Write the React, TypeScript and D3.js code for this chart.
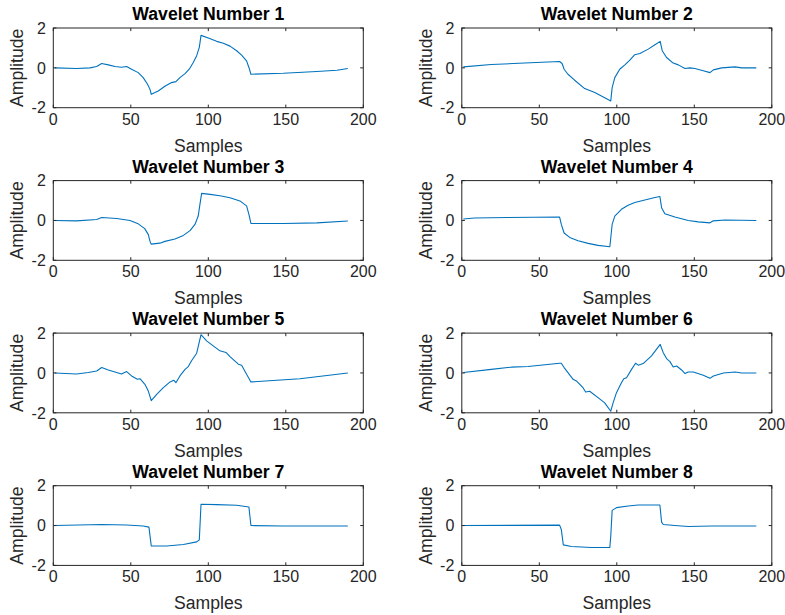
import React from "react";
import * as d3 from "d3";

// Sample index / amplitude pairs for each wavelet
const wavelet1: [number, number][] = [
  [1, 0], [15, -0.03], [23.7, 0], [28, 0.07], [31.2, 0.22], [35.5, 0.15], [39.8, 0.07],
  [44, 0.03], [47.3, 0.07], [50.5, -0.07], [54.8, -0.24], [58, -0.49], [60.8, -0.82],
  [62.4, -1.08], [63.2, -1.33], [67.7, -1.16], [72, -0.92], [76.3, -0.74], [79.1, -0.69],
  [81.7, -0.49], [85, -0.29], [87.7, -0.07], [90.3, 0.27], [92.5, 0.61], [94.2, 1.03],
  [95.3, 1.63], [100, 1.5], [105.4, 1.33], [109.7, 1.23], [114, 1.09], [118.3, 0.86],
  [121.5, 0.64], [124.7, 0.35], [126.2, 0.02], [127.5, -0.32], [148.4, -0.27],
  [170, -0.18], [183, -0.12], [190, -0.03],
];

const wavelet2: [number, number][] = [
  [1, 0.05], [19, 0.17], [40.5, 0.24], [63.1, 0.32], [64.7, 0.22], [66, -0.07],
  [68.5, -0.32], [72.8, -0.62], [79.3, -1.04], [85.8, -1.24], [92.2, -1.5], [96.1, -1.66],
  [97, -0.99], [98.7, -0.49], [101.9, -0.07], [105.2, 0.15], [108.4, 0.39], [111.6, 0.66],
  [114.9, 0.72], [120.3, 0.94], [124.6, 1.16], [128, 1.33], [129.3, 0.86], [132.1, 0.52],
  [136.4, 0.24], [139.7, 0.15], [144, -0.03], [147.2, 0], [150.4, -0.03], [155.8, -0.15],
  [160.1, -0.24], [162.3, -0.1], [167.7, 0], [176.3, 0.05], [180.6, 0], [190, 0],
];

const wavelet3: [number, number][] = [
  [1, 0], [15, -0.02], [28, 0.05], [31.2, 0.15], [40.9, 0.1], [49.5, 0], [54.8, -0.17],
  [59, -0.41], [61.3, -0.71], [62.4, -1.05], [63.2, -1.19], [68.8, -1.14], [72, -1.05],
  [78.5, -0.93], [83.9, -0.75], [88.2, -0.51], [91.4, -0.2], [93.5, 0.22], [94.6, 0.81],
  [95.7, 1.36], [101.1, 1.31], [107.5, 1.24], [114, 1.14], [120.4, 0.98], [124.7, 0.73],
  [126.2, 0.3], [127.5, -0.15], [148.4, -0.15], [170, -0.12], [190, -0.03],
];

const wavelet4: [number, number][] = [
  [1, 0.07], [8.2, 0.12], [29.7, 0.15], [63.1, 0.17], [64.2, -0.2], [66, -0.63],
  [69.6, -0.85], [75, -1.02], [81.5, -1.15], [87.9, -1.25], [95.5, -1.32], [96.1, -0.88],
  [97, -0.2], [98.7, 0.22], [103, 0.56], [107.3, 0.76], [111.6, 0.9], [118.1, 1.03],
  [124.6, 1.15], [127.8, 1.2], [128.9, 0.64], [131, 0.34], [137.5, 0.17], [146.1, 0],
  [152.6, -0.07], [160.1, -0.12], [162.3, -0.02], [169.8, 0.02], [190, 0],
];

const wavelet5: [number, number][] = [
  [1, 0], [15, -0.05], [22.6, 0.02], [28, 0.1], [31.2, 0.27], [35.5, 0.15], [39.8, 0.05],
  [44, -0.05], [47.3, 0.07], [50.5, -0.15], [54.2, -0.32], [55.9, -0.29], [59.1, -0.57],
  [61.3, -0.91], [63.2, -1.39], [66.7, -1.08], [71, -0.74], [75.3, -0.45], [77.8, -0.37],
  [79.1, -0.49], [81.7, -0.15], [85, 0.18], [87.1, 0.32], [89.2, 0.61], [92.5, 0.99],
  [95.3, 1.92], [98.9, 1.61], [103.2, 1.36], [107.5, 1.11], [111.4, 1.03], [114, 0.82],
  [119.4, 0.44], [121.5, 0.39], [124.7, -0.07], [127.5, -0.45], [159.1, -0.29], [190, 0],
];

const wavelet6: [number, number][] = [
  [1, 0.02], [19, 0.18], [31.9, 0.29], [42.7, 0.32], [63.1, 0.49], [64.2, 0.49],
  [66, 0.27], [68.5, 0.02], [71.8, -0.32], [73.9, -0.4], [78.2, -0.74], [79.9, -0.96],
  [82.5, -0.92], [87.9, -1.24], [92.2, -1.5], [96.1, -1.92], [97.6, -1.5], [99.8, -0.99],
  [100.9, -0.82], [103, -0.49], [104.5, -0.29], [106.3, -0.24], [109.5, 0.18],
  [112.1, 0.49], [113.8, 0.39], [117, 0.47], [122.4, 0.86], [128, 1.43], [129.9, 1.03],
  [132.1, 0.72], [134.3, 0.57], [136.4, 0.3], [138.6, 0.35], [141.8, 0.15], [144, -0.03],
  [146.1, 0.05], [149.4, 0.05], [155.8, -0.12], [160.1, -0.27], [162.3, -0.15],
  [168.8, 0], [176.3, 0.05], [180.6, 0], [190, 0],
];

const wavelet7: [number, number][] = [
  [1, 0], [31.2, 0.05], [47.3, 0.03], [58, -0.02], [61.7, -0.08], [63.2, -1.02],
  [73.1, -1.03], [83.9, -0.95], [92.5, -0.82], [94.2, -0.72], [95.3, 1.07], [105.4, 1.05],
  [118.3, 1.02], [126.2, 0.93], [127.5, 0], [148.4, -0.02], [190, -0.02],
];

const wavelet8: [number, number][] = [
  [1, 0], [63.1, 0.02], [64.2, -0.2], [65.5, -0.97], [70.7, -1.05], [83.6, -1.1],
  [95.5, -1.1], [96.1, -0.54], [97, 0.76], [99.8, 0.9], [107.3, 0.98], [113.8, 1.03],
  [127.8, 1.03], [128.9, 0.17], [130, 0.05], [137.5, 0], [146.1, -0.05], [161.2, -0.02],
  [190, -0.02],
];

const wavelets = [wavelet1, wavelet2, wavelet3, wavelet4, wavelet5, wavelet6, wavelet7, wavelet8];
const titles = wavelets.map((_, i) => `Wavelet Number ${i + 1}`);

const sampleTicks = [0, 50, 100, 150, 200];
const amplitudeTicks = [-2, 0, 2];
const sampleDomain: [number, number] = [0, 200];
const amplitudeDomain: [number, number] = [-2, 2];

const WIDTH = 785;
const HEIGHT = 615;
const COL_LEFT = [53.3, 461.8];
const ROW_TOP = [28, 180.6, 333.1, 485.7];
const PLOT_W = 310;
const PLOT_H = 79.7;
const TICK_LEN = 3.1;

const FONT = "'Liberation Sans', Arial, Helvetica, sans-serif";
const AXIS_COLOR = "#262626";
const LINE_COLOR = "#0072BD";

function Panel({ data, title, left, top }: { data: [number, number][]; title: string; left: number; top: number }) {
  const x = d3.scaleLinear().domain(sampleDomain).range([left, left + PLOT_W]);
  const y = d3.scaleLinear().domain(amplitudeDomain).range([top + PLOT_H, top]);
  const line = d3
    .line<[number, number]>()
    .x((d) => x(d[0]))
    .y((d) => y(d[1]));
  const bottom = top + PLOT_H;
  const right = left + PLOT_W;
  const midY = (top + bottom) / 2;

  return (
    <g>
      <path d={line(data) ?? ""} fill="none" stroke={LINE_COLOR} strokeWidth={1.1} strokeLinejoin="round" />
      <rect x={left} y={top} width={PLOT_W} height={PLOT_H} fill="none" stroke={AXIS_COLOR} strokeWidth={1} />
      {sampleTicks.map((t) => (
        <g key={`x${t}`}>
          <line x1={x(t)} x2={x(t)} y1={bottom} y2={bottom - TICK_LEN} stroke={AXIS_COLOR} />
          <line x1={x(t)} x2={x(t)} y1={top} y2={top + TICK_LEN} stroke={AXIS_COLOR} />
          <text x={x(t)} y={bottom + 17} textAnchor="middle" fontSize={16} fill={AXIS_COLOR}>
            {t}
          </text>
        </g>
      ))}
      {amplitudeTicks.map((t) => (
        <g key={`y${t}`}>
          <line x1={left} x2={left + TICK_LEN} y1={y(t)} y2={y(t)} stroke={AXIS_COLOR} />
          <line x1={right} x2={right - TICK_LEN} y1={y(t)} y2={y(t)} stroke={AXIS_COLOR} />
          <text x={left - 7.5} y={y(t) + 5.7} textAnchor="end" fontSize={16} fill={AXIS_COLOR}>
            {t}
          </text>
        </g>
      ))}
      <text x={(left + right) / 2} y={top - 8} textAnchor="middle" fontSize={17.6} fontWeight="bold" fill="#000">
        {title}
      </text>
      <text x={(left + right) / 2} y={bottom + 44} textAnchor="middle" fontSize={17.6} fill={AXIS_COLOR}>
        Samples
      </text>
      <text
        transform={`translate(${left - 30.3},${midY}) rotate(-90)`}
        textAnchor="middle"
        fontSize={17.6}
        fill={AXIS_COLOR}
      >
        Amplitude
      </text>
    </g>
  );
}

export default function App() {
  return (
    <svg
      width={WIDTH}
      height={HEIGHT}
      style={{ position: "absolute", left: 0, top: 0, background: "#fff" }}
      fontFamily={FONT}
    >
      <rect width={WIDTH} height={HEIGHT} fill="#fff" />
      {wavelets.map((w, i) => (
        <Panel key={i} data={w} title={titles[i]} left={COL_LEFT[i % 2]} top={ROW_TOP[Math.floor(i / 2)]} />
      ))}
    </svg>
  );
}
